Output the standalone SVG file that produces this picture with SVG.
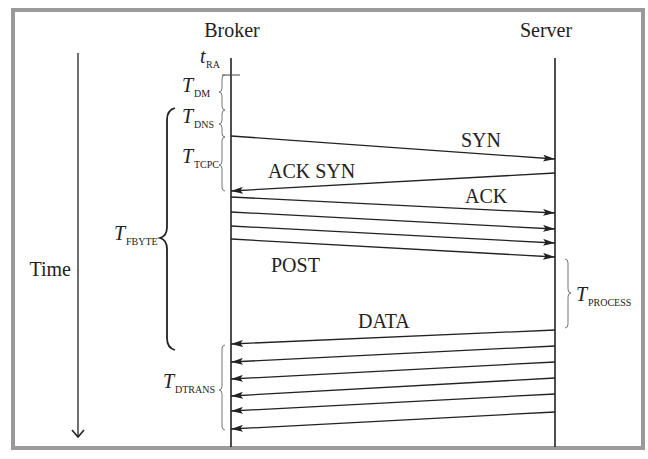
<svg xmlns="http://www.w3.org/2000/svg" width="648" height="459" viewBox="0 0 648 459" font-family="'Liberation Serif', 'Times New Roman', serif">
<style>
text{font-family:'Liberation Serif','Times New Roman',serif;fill:#222}
.lbl{font-size:20px}
.it{font-style:italic;font-size:20px}
.sub{font-size:10px}
.life{stroke:#222;stroke-width:1.6;fill:none}
.msg{stroke:#222;stroke-width:1.3;fill:none;marker-end:url(#ah)}
.br{stroke:#666;stroke-width:0.9;fill:none}
.bbig{stroke:#222;stroke-width:1.8;fill:none}
</style>
<defs>
<marker id="ah" viewBox="0 0 12 7" refX="12" refY="3.5" markerWidth="12" markerHeight="7" markerUnits="userSpaceOnUse" orient="auto">
<path d="M0,0 L12,3.5 L0,7 L2.5,3.5 z" fill="#222"/>
</marker>
</defs>
<rect x="13" y="10" width="630" height="438" fill="#fff" stroke="#9a9a9a" stroke-width="4"/>

<g id="time">
<line x1="78" y1="53" x2="78" y2="437" stroke="#222" stroke-width="1.3"/>
<polyline points="72,430 78,437 84,430" fill="none" stroke="#222" stroke-width="1.6"/>
<text class="lbl" x="71" y="276" text-anchor="end">Time</text>
</g>

<g id="broker">
<text class="lbl" x="232" y="37" text-anchor="middle">Broker</text>
<line class="life" x1="231" y1="58" x2="231" y2="447"/>
<line x1="222" y1="75" x2="240" y2="75" stroke="#444" stroke-width="1"/>
<text x="200" y="63" class="it">t</text><text x="206" y="68" class="sub">RA</text>
</g>

<g id="server">
<text class="lbl" x="546" y="37" text-anchor="middle">Server</text>
<line class="life" x1="555" y1="58" x2="555" y2="447"/>
</g>

<g id="t-dm">
<path class="br" d="M225,75 Q222,75 222,79 L222,88 Q222,92 219,92 Q222,92 222,96 L222,106 Q222,110 225,110"/>
<text x="182" y="92" class="it">T</text><text x="194" y="97" class="sub">DM</text>
</g>
<g id="t-dns">
<path class="br" d="M225,110 Q222,110 222,114 L222,120 Q222,124 219,124 Q222,124 222,128 L222,133 Q222,137 225,137"/>
<text x="182" y="123" class="it">T</text><text x="194" y="128" class="sub">DNS</text>
</g>
<g id="t-tcpc">
<path class="br" d="M225,137 Q222,137 222,141 L222,161 Q222,165 219,165 Q222,165 222,169 L222,187 Q222,191 225,191"/>
<text x="182" y="163" class="it">T</text><text x="194" y="168" class="sub">TCPC</text>
</g>
<g id="t-fbyte">
<path class="bbig" d="M175,108 Q167,110 167,120 L167,227 Q167,236 160,238 Q167,240 167,249 L167,338 Q167,348 175,350"/>
<text x="114" y="240" class="it">T</text><text x="126" y="245" class="sub">FBYTE</text>
</g>
<g id="t-process">
<path class="br" d="M565,259 Q568,259 568,263 L568,289 Q568,293 571,293 Q568,293 568,297 L568,324 Q568,328 565,328"/>
<text x="576" y="301" class="it">T</text><text x="588" y="306" class="sub">PROCESS</text>
</g>
<g id="t-dtrans">
<path class="br" d="M225,345 Q222,345 222,349 L222,386 Q222,390 219,390 Q222,390 222,394 L222,426 Q222,430 225,430"/>
<text x="163" y="388" class="it">T</text><text x="175" y="393" class="sub">DTRANS</text>
</g>

<g id="connectors">
<line class="msg" x1="231" y1="136" x2="555" y2="159"/>
<line class="msg" x1="555" y1="173" x2="231" y2="191"/>
<line class="msg" x1="231" y1="197" x2="555" y2="213"/>
<line class="msg" x1="231" y1="212" x2="555" y2="229"/>
<line class="msg" x1="231" y1="226" x2="555" y2="243"/>
<line class="msg" x1="231" y1="239" x2="555" y2="257"/>
<line class="msg" x1="555" y1="330" x2="231" y2="344"/>
<line class="msg" x1="555" y1="346" x2="231" y2="362"/>
<line class="msg" x1="555" y1="362" x2="231" y2="379"/>
<line class="msg" x1="555" y1="378" x2="231" y2="396"/>
<line class="msg" x1="555" y1="394" x2="231" y2="411"/>
<line class="msg" x1="555" y1="412" x2="231" y2="429"/>
<text class="lbl" x="461" y="147">SYN</text>
<text class="lbl" x="268" y="178">ACK SYN</text>
<text class="lbl" x="465" y="203">ACK</text>
<text class="lbl" x="271" y="272">POST</text>
<text class="lbl" x="358" y="328">DATA</text>
</g>
</svg>
